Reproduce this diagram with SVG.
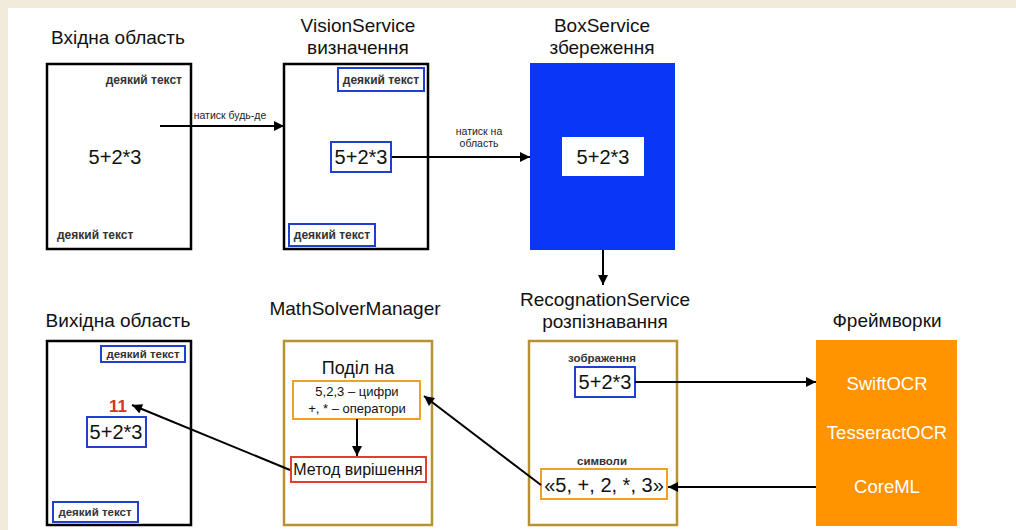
<svg xmlns="http://www.w3.org/2000/svg" width="1016" height="530" viewBox="0 0 1016 530">
<defs>
<marker id="ah" viewBox="0 0 10 10" refX="10" refY="5" markerWidth="5.5" markerHeight="5" markerUnits="strokeWidth" orient="auto">
<path d="M0,0 L10,5 L0,10 z" fill="#000"/>
</marker>
<style>
text{font-family:"Liberation Sans",Arial,sans-serif;fill:#111;}
.title{font-size:19px;text-anchor:middle;}
.small{font-size:12px;font-weight:bold;fill:#333;}
.expr{font-size:20px;text-anchor:middle;}
.lbl{font-size:10.5px;text-anchor:middle;fill:#222;}
.lbl2{font-size:11.5px;font-weight:bold;text-anchor:middle;fill:#333;}
.frame{fill:#fff;stroke:#000;stroke-width:2.5;}
.gold{fill:#fff;stroke:#b59332;stroke-width:2.5;}
.bl{fill:#fff;stroke:#1f3fd0;stroke-width:2;}
.or{fill:#fff;stroke:#f2a020;stroke-width:2;}
.fw{font-size:18.5px;text-anchor:middle;fill:#fff;}
.conn{stroke:#000;stroke-width:2;fill:none;marker-end:url(#ah);}
</style>
</defs>
<rect x="0" y="0" width="1016" height="530" fill="#fff"/>
<rect x="0" y="0" width="1016" height="8" fill="#f2ebdc"/>
<rect x="0" y="0" width="8" height="530" fill="#f2ebdc"/>

<g id="input">
<text class="title" x="118" y="44">Вхідна область</text>
<rect class="frame" x="47" y="64" width="144" height="185"/>
<text class="small" x="182" y="84" text-anchor="end">деякий текст</text>
<text class="expr" x="115" y="164">5+2*3</text>
<text class="small" x="57" y="239">деякий текст</text>
</g>

<g id="vision">
<text class="title" x="358" y="32">VisionService</text>
<text class="title" x="358" y="54">визначення</text>
<rect class="frame" x="284" y="64" width="144" height="185"/>
<rect class="bl" x="338" y="68" width="86" height="23"/>
<text class="small" x="381" y="84" text-anchor="middle">деякий текст</text>
<rect class="bl" x="331" y="142" width="60" height="30"/>
<text class="expr" x="361" y="164">5+2*3</text>
<rect class="bl" x="289" y="224" width="86" height="22"/>
<text class="small" x="332" y="239" text-anchor="middle">деякий текст</text>
</g>

<g id="box">
<text class="title" x="602" y="32">BoxService</text>
<text class="title" x="602" y="54">збереження</text>
<rect x="530" y="63" width="145" height="187" fill="#0a36f5"/>
<rect x="562" y="137" width="82" height="39" fill="#fff"/>
<text class="expr" x="603" y="164">5+2*3</text>
</g>

<g id="recognition">
<text class="title" x="605" y="306">RecognationService</text>
<text class="title" x="605" y="328">розпізнавання</text>
<rect class="gold" x="529" y="341" width="148" height="184"/>
<text class="lbl2" x="602" y="362">зображення</text>
<rect class="bl" x="575" y="367" width="60" height="30"/>
<text class="expr" x="605" y="389">5+2*3</text>
<text class="lbl2" x="602" y="465">символи</text>
<rect class="or" x="541" y="469" width="126" height="30"/>
<text class="expr" x="604" y="492">«5, +, 2, *, 3»</text>
</g>

<g id="frameworks">
<text class="title" x="887" y="327">Фреймворки</text>
<rect x="816" y="340" width="141" height="186" fill="#ff9300"/>
<text class="fw" x="887" y="390">SwiftOCR</text>
<text class="fw" x="887" y="439">TesseractOCR</text>
<text class="fw" x="887" y="493">CoreML</text>
</g>

<g id="solver">
<text class="title" x="355" y="315">MathSolverManager</text>
<rect class="gold" x="284" y="341" width="148" height="184"/>
<text class="title" x="358" y="374" style="font-size:18px">Поділ на</text>
<rect class="or" x="293" y="381" width="127" height="38"/>
<text x="357" y="396" font-size="13" text-anchor="middle">5,2,3 – цифри</text>
<text x="357" y="413" font-size="13" text-anchor="middle">+, * – оператори</text>
<rect x="291" y="457" width="135" height="25" fill="#fff" stroke="#e0402a" stroke-width="2"/>
<text x="358" y="475" font-size="16" text-anchor="middle">Метод вирішення</text>
</g>

<g id="output">
<text class="title" x="118" y="327">Вихідна область</text>
<rect class="frame" x="47" y="341" width="144" height="184"/>
<rect class="bl" x="101" y="346" width="84" height="16"/>
<text class="small" x="143" y="358" text-anchor="middle" style="font-size:11.5px">деякий текст</text>
<text x="118" y="412" font-size="17" font-weight="bold" text-anchor="middle" style="fill:#e03020">11</text>
<rect class="bl" x="87" y="417" width="59" height="30"/>
<text class="expr" x="116" y="439">5+2*3</text>
<rect class="bl" x="53" y="502" width="85" height="20"/>
<text class="small" x="95" y="516" text-anchor="middle" style="font-size:11.5px">деякий текст</text>
</g>

<g id="connectors">
<line class="conn" x1="160" y1="126" x2="284" y2="126"/>
<text class="lbl" x="230" y="119">натиск будь-де</text>
<line class="conn" x1="392" y1="157" x2="530" y2="157"/>
<text class="lbl" x="479" y="135">натиск на</text>
<text class="lbl" x="479" y="147">область</text>
<line class="conn" x1="603" y1="250" x2="603" y2="285"/>
<line class="conn" x1="635" y1="382" x2="816" y2="382"/>
<line class="conn" x1="816" y1="487" x2="668" y2="487"/>
<line class="conn" x1="541" y1="485" x2="424" y2="396"/>
<line class="conn" x1="357" y1="419" x2="357" y2="456"/>
<line class="conn" x1="290" y1="470" x2="132" y2="405"/>
</g>
</svg>
